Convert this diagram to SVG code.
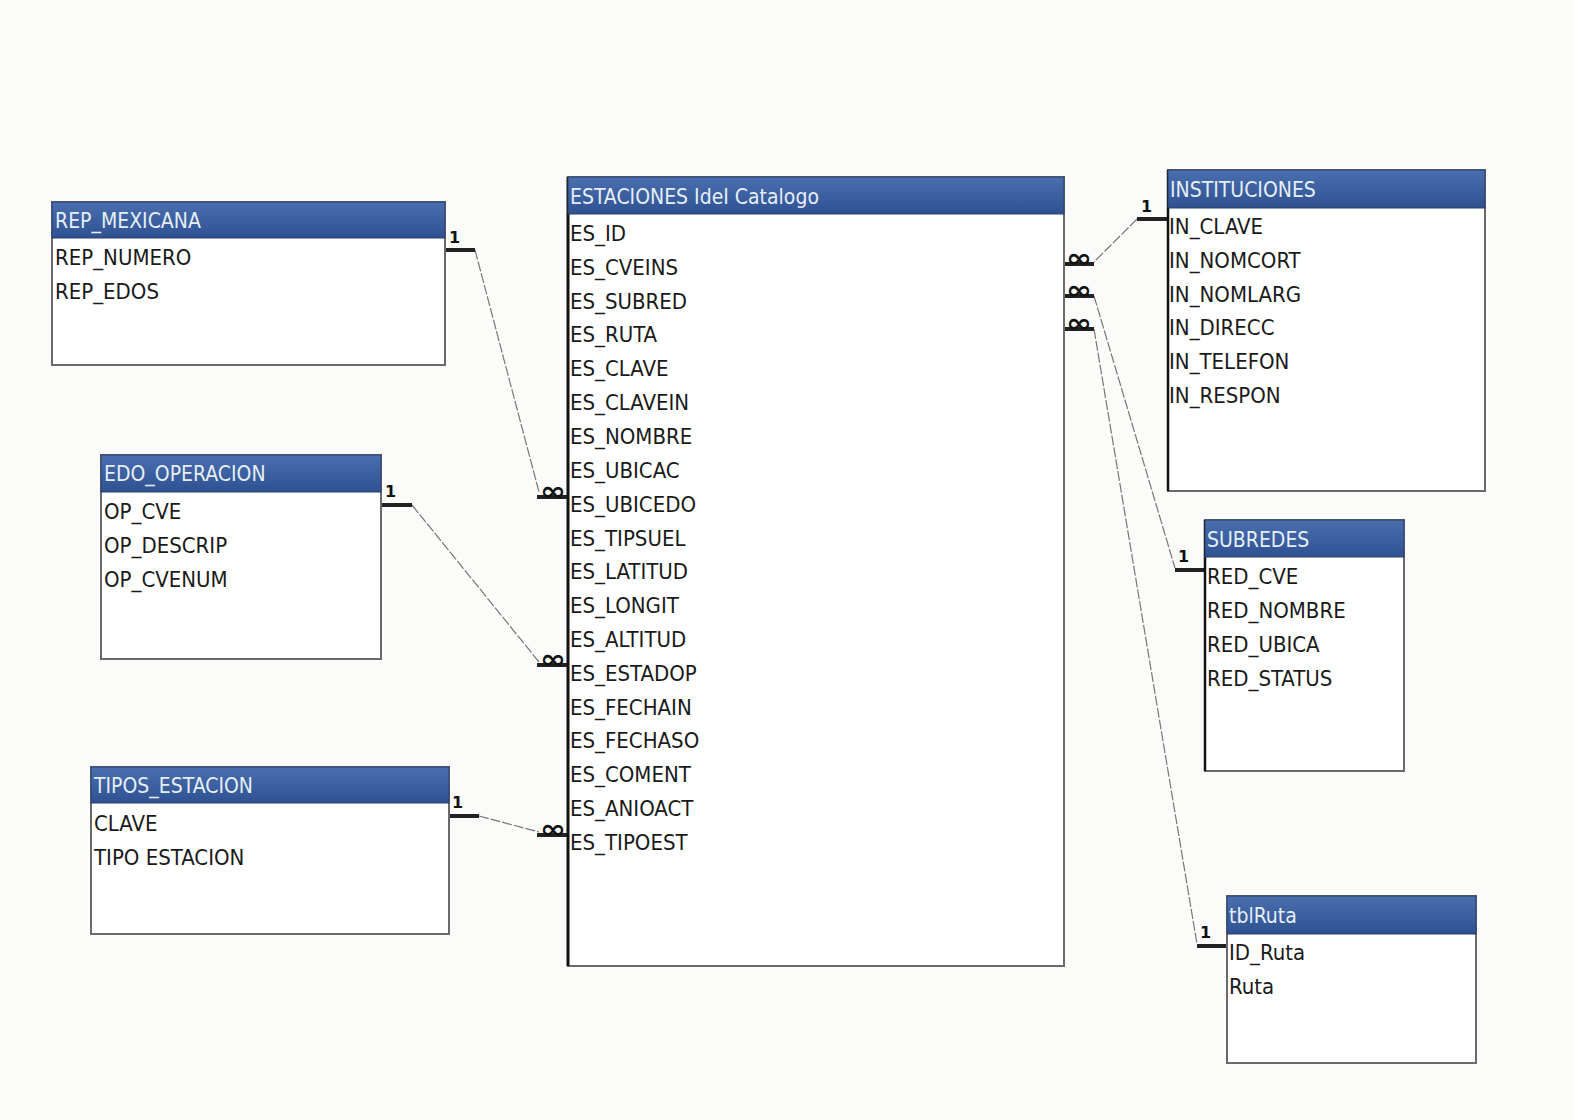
<svg xmlns="http://www.w3.org/2000/svg" width="1574" height="1120" viewBox="0 0 1574 1120">
<defs>
<linearGradient id="hg" x1="0" y1="0" x2="0" y2="1">
<stop offset="0" stop-color="#4a6fae"/>
<stop offset="1" stop-color="#2f5191"/>
</linearGradient>
<style>
.body{fill:#ffffff;stroke:#6a6a6a;stroke-width:2}
.hdr{fill:url(#hg);stroke:#2a3f6a;stroke-width:1}
.ht{font-family:"DejaVu Sans Condensed","DejaVu Sans",sans-serif;font-stretch:condensed;font-size:21px;fill:#e6eef8}
.ft{font-family:"DejaVu Sans Condensed","DejaVu Sans",sans-serif;font-stretch:condensed;font-size:22px;fill:#1a1a1a}
.one{font-family:"DejaVu Sans",sans-serif;font-weight:bold;font-size:16px;fill:#111}
.inf{font-family:"DejaVu Sans",sans-serif;font-weight:bold;font-size:26px;fill:#111}
.bar{stroke:#222;stroke-width:4}
.conn{stroke:#777;stroke-width:1.2;fill:none;stroke-dasharray:10 2}
</style>
</defs>
<rect width="1574" height="1120" fill="#fbfbfa"/>

<g id="connectors">
<line class="conn" x1="475" y1="250" x2="539" y2="492"/>
<line class="conn" x1="412" y1="505" x2="539" y2="662"/>
<line class="conn" x1="479" y1="816" x2="539" y2="832"/>
<line class="conn" x1="1137" y1="219" x2="1094" y2="262"/>
<line class="conn" x1="1094" y1="296" x2="1175" y2="568"/>
<line class="conn" x1="1094" y1="329" x2="1197" y2="944"/>
<!-- one markers -->
<line class="bar" x1="446" y1="250" x2="475" y2="250"/>
<text class="one" x="449" y="243">1</text>
<line class="bar" x1="382" y1="505" x2="412" y2="505"/>
<text class="one" x="385" y="497">1</text>
<line class="bar" x1="449" y1="816" x2="479" y2="816"/>
<text class="one" x="452" y="808">1</text>
<line class="bar" x1="1137" y1="219" x2="1168" y2="219"/>
<text class="one" x="1141" y="212">1</text>
<line class="bar" x1="1175" y1="570" x2="1205" y2="570"/>
<text class="one" x="1178" y="562">1</text>
<line class="bar" x1="1197" y1="946" x2="1227" y2="946"/>
<text class="one" x="1200" y="938">1</text>
<!-- many markers -->
<line class="bar" x1="537" y1="497" x2="568" y2="497"/>
<text class="inf" x="540" y="500" textLength="26" lengthAdjust="spacingAndGlyphs">∞</text>
<line class="bar" x1="537" y1="665" x2="568" y2="665"/>
<text class="inf" x="540" y="668" textLength="26" lengthAdjust="spacingAndGlyphs">∞</text>
<line class="bar" x1="537" y1="835" x2="568" y2="835"/>
<text class="inf" x="540" y="838" textLength="26" lengthAdjust="spacingAndGlyphs">∞</text>
<line class="bar" x1="1064" y1="264" x2="1094" y2="264"/>
<text class="inf" x="1066" y="267" textLength="26" lengthAdjust="spacingAndGlyphs">∞</text>
<line class="bar" x1="1064" y1="296" x2="1094" y2="296"/>
<text class="inf" x="1066" y="299" textLength="26" lengthAdjust="spacingAndGlyphs">∞</text>
<line class="bar" x1="1064" y1="329" x2="1094" y2="329"/>
<text class="inf" x="1066" y="332" textLength="26" lengthAdjust="spacingAndGlyphs">∞</text>
</g>

<g id="rep_mexicana">
<rect class="body" x="52" y="202" width="393" height="163"/>
<rect class="hdr" x="52" y="202" width="393" height="36"/>
<text class="ht" x="55" y="228">REP_MEXICANA</text>
<text class="ft" x="55" y="265">REP_NUMERO</text>
<text class="ft" x="55" y="299">REP_EDOS</text>
</g>

<g id="edo_operacion">
<rect class="body" x="101" y="455" width="280" height="204"/>
<rect class="hdr" x="101" y="455" width="280" height="37"/>
<text class="ht" x="104" y="481">EDO_OPERACION</text>
<text class="ft" x="104" y="519">OP_CVE</text>
<text class="ft" x="104" y="553">OP_DESCRIP</text>
<text class="ft" x="104" y="587">OP_CVENUM</text>
</g>

<g id="tipos_estacion">
<rect class="body" x="91" y="767" width="358" height="167"/>
<rect class="hdr" x="91" y="767" width="358" height="36"/>
<text class="ht" x="94" y="793">TIPOS_ESTACION</text>
<text class="ft" x="94" y="831">CLAVE</text>
<text class="ft" x="94" y="865">TIPO ESTACION</text>
</g>

<g id="estaciones">
<rect class="body" x="568" y="177" width="496" height="789"/>
<line x1="568" y1="177" x2="568" y2="966" stroke="#111" stroke-width="3"/>
<rect class="hdr" x="568" y="177" width="496" height="37"/>
<text class="ht" x="570" y="204">ESTACIONES IdeI Catalogo</text>
<text class="ft" x="570" y="241">ES_ID</text>
<text class="ft" x="570" y="275">ES_CVEINS</text>
<text class="ft" x="570" y="309">ES_SUBRED</text>
<text class="ft" x="570" y="342">ES_RUTA</text>
<text class="ft" x="570" y="376">ES_CLAVE</text>
<text class="ft" x="570" y="410">ES_CLAVEIN</text>
<text class="ft" x="570" y="444">ES_NOMBRE</text>
<text class="ft" x="570" y="478">ES_UBICAC</text>
<text class="ft" x="570" y="512">ES_UBICEDO</text>
<text class="ft" x="570" y="546">ES_TIPSUEL</text>
<text class="ft" x="570" y="579">ES_LATITUD</text>
<text class="ft" x="570" y="613">ES_LONGIT</text>
<text class="ft" x="570" y="647">ES_ALTITUD</text>
<text class="ft" x="570" y="681">ES_ESTADOP</text>
<text class="ft" x="570" y="715">ES_FECHAIN</text>
<text class="ft" x="570" y="748">ES_FECHASO</text>
<text class="ft" x="570" y="782">ES_COMENT</text>
<text class="ft" x="570" y="816">ES_ANIOACT</text>
<text class="ft" x="570" y="850">ES_TIPOEST</text>
</g>

<g id="instituciones">
<rect class="body" x="1168" y="170" width="317" height="321"/>
<line x1="1168" y1="170" x2="1168" y2="491" stroke="#111" stroke-width="2.5"/>
<rect class="hdr" x="1168" y="170" width="317" height="38"/>
<text class="ht" x="1170" y="197">INSTITUCIONES</text>
<text class="ft" x="1169" y="234">IN_CLAVE</text>
<text class="ft" x="1169" y="268">IN_NOMCORT</text>
<text class="ft" x="1169" y="302">IN_NOMLARG</text>
<text class="ft" x="1169" y="335">IN_DIRECC</text>
<text class="ft" x="1169" y="369">IN_TELEFON</text>
<text class="ft" x="1169" y="403">IN_RESPON</text>
</g>

<g id="subredes">
<rect class="body" x="1205" y="520" width="199" height="251"/>
<line x1="1205" y1="520" x2="1205" y2="771" stroke="#111" stroke-width="2.5"/>
<rect class="hdr" x="1205" y="520" width="199" height="37"/>
<text class="ht" x="1207" y="547">SUBREDES</text>
<text class="ft" x="1207" y="584">RED_CVE</text>
<text class="ft" x="1207" y="618">RED_NOMBRE</text>
<text class="ft" x="1207" y="652">RED_UBICA</text>
<text class="ft" x="1207" y="686">RED_STATUS</text>
</g>

<g id="tblruta">
<rect class="body" x="1227" y="896" width="249" height="167"/>
<rect class="hdr" x="1227" y="896" width="249" height="38"/>
<text class="ht" x="1229" y="923">tblRuta</text>
<text class="ft" x="1229" y="960">ID_Ruta</text>
<text class="ft" x="1229" y="994">Ruta</text>
</g>
</svg>
